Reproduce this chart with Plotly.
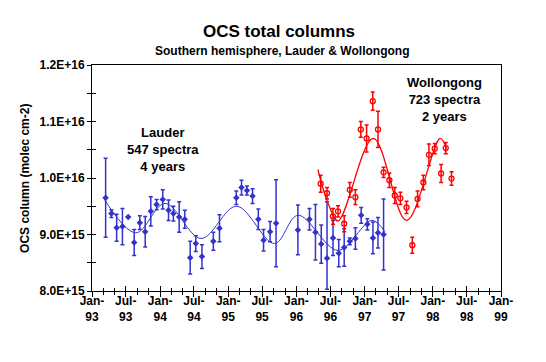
import plotly.graph_objects as go

SCALE = 1e15

# ---- Lauder (blue) monthly means, units of 1e15 molec cm-2 ----
lauder_dates = ['1993-03-15', '1993-04-15', '1993-05-13', '1993-06-13', '1993-07-14', '1993-08-15',
                '1993-09-14', '1993-10-13', '1993-11-12', '1993-12-13', '1994-01-15', '1994-02-15',
                '1994-03-13', '1994-04-13', '1994-05-13', '1994-06-11', '1994-07-11', '1994-08-13',
                '1994-10-13', '1994-11-15', '1995-02-13', '1995-03-13', '1995-04-11', '1995-05-11',
                '1995-06-11', '1995-07-09', '1995-08-13', '1995-09-14', '1996-01-09', '1996-03-11',
                '1996-04-12', '1996-05-13', '1996-06-13', '1996-07-15', '1996-08-15', '1996-09-13',
                '1996-10-13', '1996-11-12', '1996-12-13', '1997-01-15', '1997-02-14', '1997-03-13',
                '1997-04-12']
lauder_vals = [9.65, 9.37, 9.12, 9.14, 9.31, 8.86, 9.21, 9.05, 9.41, 9.53,
               9.62, 9.43, 9.37, 9.31, 9.27, 8.59, 8.84, 8.61, 8.88, 9.11,
               9.65, 9.83, 9.78, 9.68, 9.27, 8.90, 9.05, 9.20, 9.08, 9.27,
               9.04, 8.83, 8.58, 8.94, 8.67, 8.77, 8.88, 8.93, 9.34, 9.18,
               8.94, 9.03, 9.00]
lauder_err_plus = [0.70, 0.07, 0.24, 0.32, 0.00, 0.23, 0.12, 0.27, 0.26, 0.09,
                   0.17, 0.18, 0.13, 0.27, 0.16, 0.29, 0.14, 0.21, 0.16, 0.24,
                   0.12, 0.13, 0.08, 0.13, 0.18, 0.19, 0.18, 0.77, 0.44, 0.19,
                   0.49, 0.34, 1.00, 0.31, 0.24, 0.33, 0.06, 0.19, 0.14, 0.10,
                   0.28, 0.27, 0.63]
# lower bars (the Jul-96 bar is cut off at the axis floor in the original)
lauder_err_minus = [0.70, 0.07, 0.24, 0.32, 0.00, 0.23, 0.12, 0.27, 0.26, 0.09,
                    0.17, 0.18, 0.13, 0.27, 0.16, 0.29, 0.14, 0.21, 0.16, 0.24,
                    0.12, 0.13, 0.08, 0.13, 0.18, 0.19, 0.18, 0.77, 0.44, 0.19,
                    0.49, 0.34, 0.55, 0.31, 0.24, 0.33, 0.06, 0.19, 0.14, 0.10,
                    0.28, 0.27, 0.63]

# ---- Wollongong (red) monthly means ----
woll_dates = ['1996-05-10', '1996-06-13', '1996-07-15', '1996-08-11', '1996-09-13', '1996-10-13',
              '1996-11-12', '1996-12-11', '1997-01-11', '1997-02-13', '1997-03-13', '1997-04-12',
              '1997-05-13', '1997-06-11', '1997-07-11', '1997-08-13', '1997-09-13', '1997-10-11',
              '1997-11-11', '1997-12-11', '1998-01-11', '1998-02-14', '1998-03-11', '1998-04-11']
woll_vals = [9.90, 9.73, 9.32, 9.41, 9.19, 9.79, 9.66, 10.86, 10.70, 11.36, 10.86, 10.10,
             9.96, 9.69, 9.64, 9.48, 8.81, 9.63, 9.92, 10.41, 10.52, 10.08, 10.53, 9.99]
woll_err = [0.15, 0.10, 0.14, 0.10, 0.14, 0.13, 0.13, 0.14, 0.24, 0.16, 0.32, 0.09,
            0.13, 0.14, 0.11, 0.11, 0.14, 0.14, 0.13, 0.19, 0.09, 0.16, 0.10, 0.12]

# ---- fitted seasonal curves (read at their turning points) ----
lauder_fit_dates = ['1993-03-03', '1993-08-24', '1994-01-27', '1994-08-08', '1995-02-14',
                    '1995-09-06', '1996-01-09', '1996-08-11', '1997-02-08', '1997-04-19']
lauder_fit_vals = [9.65, 9.03, 9.55, 8.93, 9.50, 8.84, 9.34, 8.72, 9.25, 9.05]

woll_fit_dates = ['1996-04-25', '1996-06-19', '1996-08-11', '1997-02-16', '1997-08-13',
                  '1998-02-09', '1998-03-15']
woll_fit_vals = [10.15, 9.55, 9.24, 10.70, 9.25, 10.70, 10.52]

# ---- axis ticks ----
x_tick_dates = ['1993-01-01', '1993-07-01', '1994-01-01', '1994-07-01', '1995-01-01', '1995-07-01',
                '1996-01-01', '1996-07-01', '1997-01-01', '1997-07-01', '1998-01-01', '1998-07-01',
                '1999-01-01']
x_tick_labels = ['Jan-<br>93', 'Jul-<br>93', 'Jan-<br>94', 'Jul-<br>94', 'Jan-<br>95', 'Jul-<br>95',
                 'Jan-<br>96', 'Jul-<br>96', 'Jan-<br>97', 'Jul-<br>97', 'Jan-<br>98', 'Jul-<br>98',
                 'Jan-<br>99']
y_tick_vals = [8, 9, 10, 11, 12]
y_tick_labels = ['8.0E+15', '9.0E+15', '1.0E+16', '1.1E+16', '1.2E+16']

BLUE = '#3333CC'
RED = '#FF0000'
FONT = 'Liberation Sans, Arial, sans-serif'


def sc(a):
    return [v * SCALE for v in a]


def bold(labels):
    return ['<b>' + t.replace('<br>', '</b><br><b>') + '</b>' for t in labels]


fig = go.Figure()

fig.add_trace(go.Scatter(x=lauder_fit_dates, y=sc(lauder_fit_vals), mode='lines',
                         line=dict(color=BLUE, width=1, shape='spline'),
                         showlegend=False, hoverinfo='skip'))
fig.add_trace(go.Scatter(x=lauder_dates, y=sc(lauder_vals), mode='markers',
                         marker=dict(symbol='diamond', size=5, color=BLUE),
                         error_y=dict(type='data', symmetric=False, array=sc(lauder_err_plus),
                                      arrayminus=sc(lauder_err_minus), color=BLUE,
                                      thickness=1.5, width=2),
                         showlegend=False))
fig.add_trace(go.Scatter(x=woll_fit_dates, y=sc(woll_fit_vals), mode='lines',
                         line=dict(color=RED, width=1.3, shape='spline'),
                         showlegend=False, hoverinfo='skip'))
fig.add_trace(go.Scatter(x=woll_dates, y=sc(woll_vals), mode='markers',
                         marker=dict(symbol='circle-open', size=5, color=RED,
                                     line=dict(width=1.3, color=RED)),
                         error_y=dict(type='data', array=sc(woll_err), color=RED,
                                      thickness=1.5, width=2),
                         showlegend=False))
# helper trace on the overlay axes (used only to draw inward tick halves)
fig.add_trace(go.Scatter(x=lauder_dates[:1], y=sc(lauder_vals[:1]), xaxis='x2', yaxis='y2',
                         mode='markers', marker=dict(opacity=0), showlegend=False,
                         hoverinfo='skip'))

xr = ['1993-01-01', '1999-01-01']
yr = [8 * SCALE, 12 * SCALE]
tickfont = dict(family=FONT, size=12, color='black')

fig.update_layout(
    width=546, height=362,
    margin=dict(l=84, r=53, t=57, b=79),
    paper_bgcolor='white', plot_bgcolor='white',
    font=dict(family=FONT, color='black'),
    xaxis=dict(type='date', range=xr, tickmode='array', tickvals=x_tick_dates,
               ticktext=bold(x_tick_labels), tickangle=0, ticklabelstandoff=-6,
               ticks='outside', ticklen=5, tickwidth=1, tickcolor='black',
               minor=dict(dtick='M2', tick0='1993-01-01', ticks='outside', ticklen=3,
                          tickcolor='black', showgrid=False),
               showline=True, linecolor='black', linewidth=1, mirror=True,
               showgrid=False, zeroline=False, tickfont=tickfont),
    yaxis=dict(range=yr, tickmode='array', tickvals=sc(y_tick_vals), ticktext=bold(y_tick_labels),
               ticks='outside', ticklen=4, tickwidth=1, tickcolor='black',
               minor=dict(dtick=0.5 * SCALE, tick0=0, ticks='outside', ticklen=4,
                          tickcolor='black', showgrid=False),
               showline=True, linecolor='black', linewidth=1, mirror=True,
               showgrid=False, zeroline=False, tickfont=tickfont),
    xaxis2=dict(type='date', range=xr, overlaying='x', anchor='y2', side='bottom',
                tickmode='array', tickvals=x_tick_dates, showticklabels=False,
                ticks='inside', ticklen=5, tickwidth=1, tickcolor='black',
                minor=dict(dtick='M2', tick0='1993-01-01', ticks='inside', ticklen=3,
                           tickcolor='black', showgrid=False),
                showline=False, showgrid=False, zeroline=False),
    yaxis2=dict(range=yr, overlaying='y', anchor='x2', side='left',
                tickmode='array', tickvals=sc(y_tick_vals), showticklabels=False,
                ticks='inside', ticklen=4, tickwidth=1, tickcolor='black',
                minor=dict(dtick=0.5 * SCALE, tick0=0, ticks='inside', ticklen=4,
                           tickcolor='black', showgrid=False),
                showline=False, showgrid=False, zeroline=False),
)

ann_font = dict(family=FONT, size=13, color='black')
fig.add_annotation(text='<b>OCS total columns</b>', xref='paper', yref='paper',
                   x=0.457, y=1.150, showarrow=False, xanchor='center', yanchor='middle',
                   font=dict(family=FONT, size=17, color='black'))
fig.add_annotation(text='<b>Southern hemisphere, Lauder &amp; Wollongong</b>', xref='paper',
                   yref='paper', x=0.465, y=1.062, showarrow=False, xanchor='center',
                   yanchor='middle', font=dict(family=FONT, size=12, color='black'))
fig.add_annotation(text='<b>Lauder<br>547 spectra<br>4 years</b>', xref='paper', yref='paper',
                   x=0.174, y=0.628, showarrow=False, xanchor='center', yanchor='middle',
                   font=ann_font)
fig.add_annotation(text='<b>Wollongong<br>723 spectra<br>2 years</b>', xref='paper',
                   yref='paper', x=0.861, y=0.846, showarrow=False, xanchor='center',
                   yanchor='middle', font=ann_font)
fig.add_annotation(text='<b>OCS column (molec cm-2)</b>', xref='paper', yref='paper',
                   x=-0.164, y=0.5, showarrow=False, xanchor='center', yanchor='middle',
                   textangle=-90, font=dict(family=FONT, size=12, color='black'))

fig.write_html('out.html')
